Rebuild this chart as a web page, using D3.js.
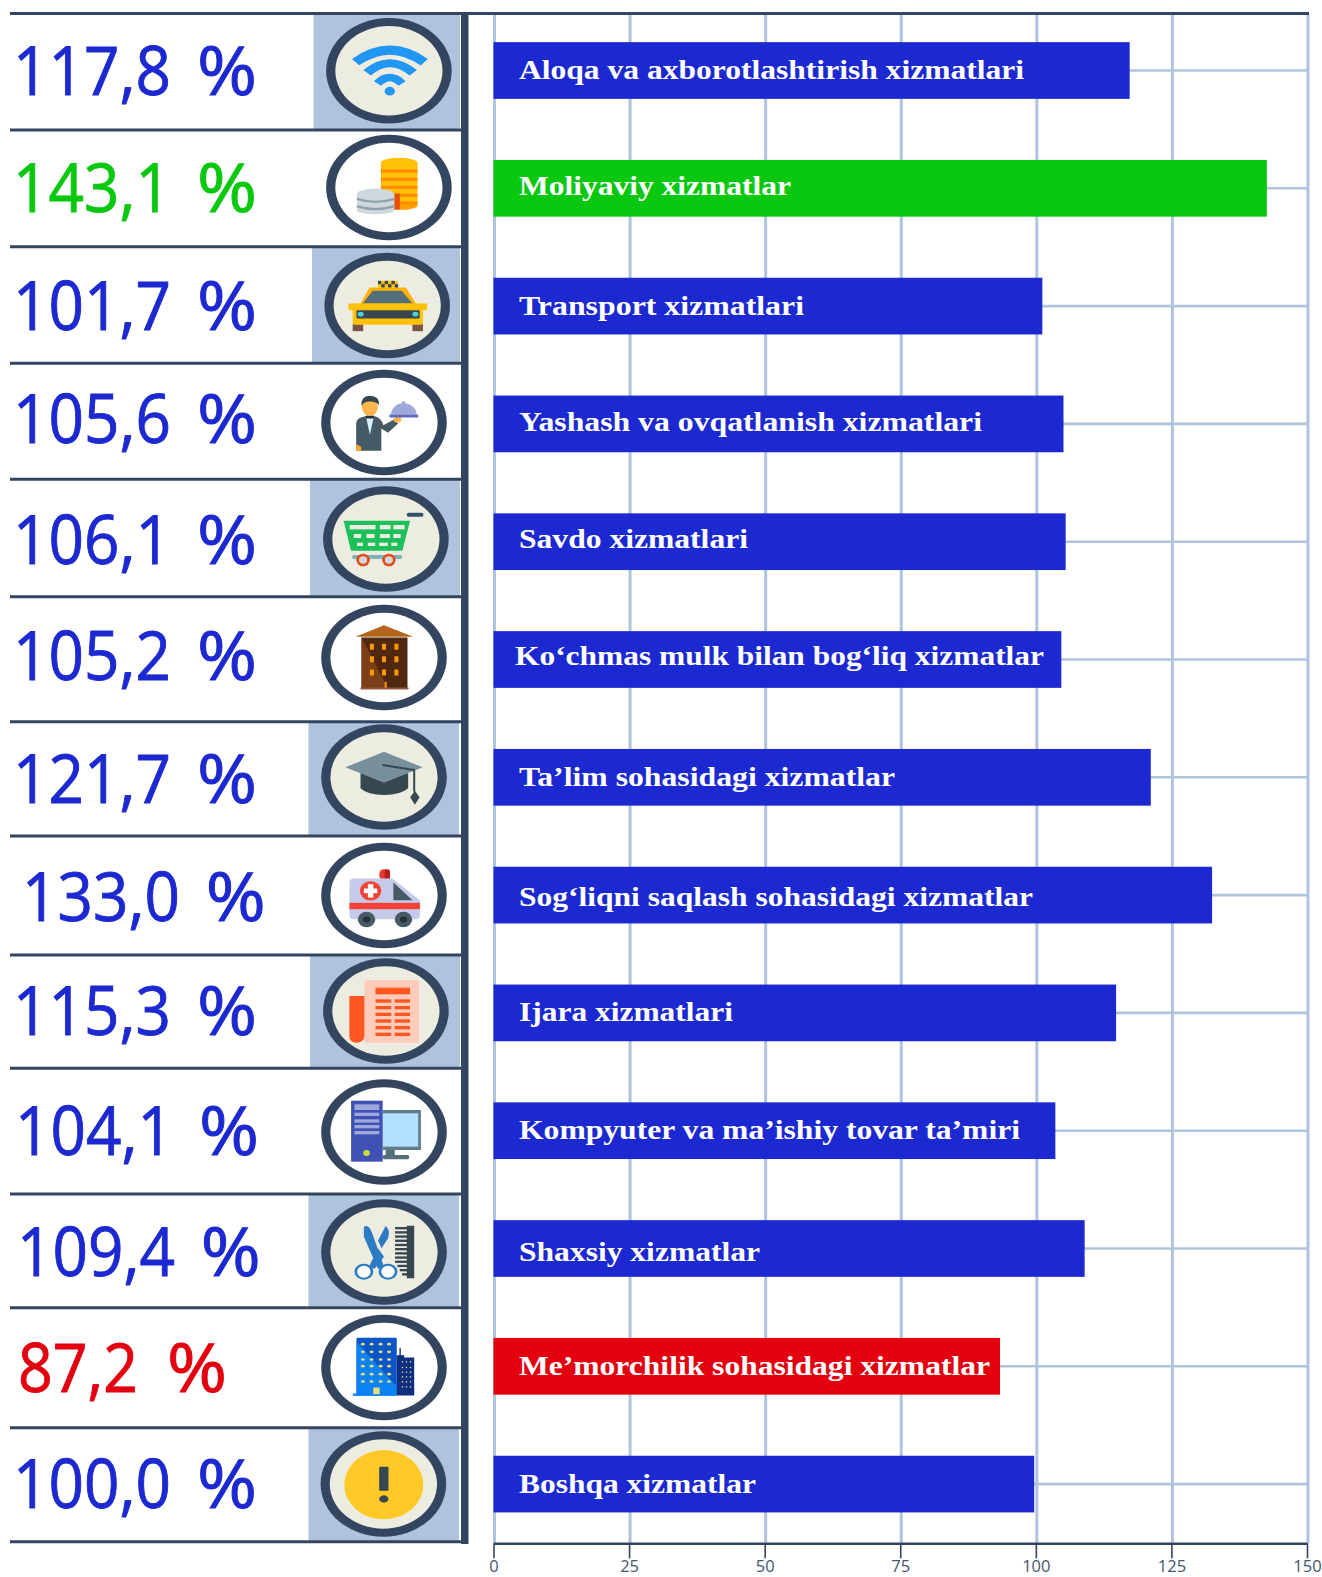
<!DOCTYPE html>
<html><head><meta charset="utf-8">
<script src="https://cdn.jsdelivr.net/npm/d3@7"></script>
<style>
html,body{margin:0;padding:0;background:#fff;overflow:hidden}
svg{display:block}
</style></head><body>
<svg id="c" width="1322" height="1577"></svg>
<script>
// ---- data ----
const categories = ["Aloqa va axborotlashtirish xizmatlari","Moliyaviy xizmatlar","Transport xizmatlari","Yashash va ovqatlanish xizmatlari","Savdo xizmatlari","Ko‘chmas mulk bilan bog‘liq xizmatlar","Ta’lim sohasidagi xizmatlar","Sog‘liqni saqlash sohasidagi xizmatlar","Ijara xizmatlari","Kompyuter va ma’ishiy tovar ta’miri","Shaxsiy xizmatlar","Me’morchilik sohasidagi xizmatlar","Boshqa xizmatlar"];
const percentValues = [117.8,143.1,101.7,105.6,106.1,105.2,121.7,133.0,115.3,104.1,109.4,87.2,100.0];
const barLengths = [117.3,142.6,101.2,105.1,105.5,104.7,121.2,132.5,114.8,103.6,109.0,93.4,99.7];
const axisTicks = [0,25,50,75,100,125,150];
const iconNames = ["wifi","coins","taxi","waiter","cart","house","cap","ambulance","news","computer","scissors","city","warning"];

// ---- layout of the hand-assembled left column ----
const rowEdges = [13.5,130,246.7,363.3,479.3,596.7,721.7,836,955,1068.3,1194,1307.7,1427.7,1541.7];
const panelLeft = [313.5,null,312,null,310,null,308.4,null,310,null,308.4,null,308.5];
const panelRight = [460,null,460,null,460,null,459,null,460,null,459,null,459];
const ringX = [388.9,388.9,387.2,384,385.9,384,384,384,385.9,384,384,384,383.4];
const ringY = [70.8,187.5,305.5,422.5,539,657.5,777,895.5,1011,1132,1252,1367.5,1484];
const percentBase = [95,212,330,443,563.8,680.3,803,921,1035,1154.6,1276,1392,1508];
const numberLeft = [13,13,13,13,13,13,13,22,13,15,17,18,13];
const numberWide = [158,158,158,158,158,158,158,158,158,158,158,120,158];
const signLeft = [197,197,197,197,197,197,197,205.7,197,199,200.7,167,197];
const labelLeft = [519,519,519,519,519,515,519,519,519,519,519,519,519];
const labelEnd = [1024,791,804,982,748,1044,895,1033,733,1020,760,990,756];
const labelNudge = [8.9,6.7,8.6,7.5,6.3,5.2,9.1,10.9,7.9,8.8,12.5,8.5,9.4];

const INK="#34465f", GRID="#b0c4de", BLUE="#1c29d0", GREEN="#0ac80f", RED="#e3000f", PANEL="#afc3dc", CREAM="#ecede0";
const maxV=d3.max(percentValues), minV=d3.min(percentValues);
const tone=v=>v===maxV?GREEN:v===minV?RED:BLUE;

const svg=d3.select("#c");
const x=d3.scaleLinear().domain([0,150]).range([493.5,1307]);
const y=d3.scaleBand().domain(categories).range([11.6,1543]).paddingInner(0.5187).paddingOuter(0.2594);

// grid
const grid=svg.append("g").attr("stroke",GRID).attr("stroke-width",3);
grid.selectAll(".h").data(categories).join("line").attr("class","h")
  .attr("x1",x(0)).attr("x2",x(150)+1)
  .attr("y1",d=>y(d)+y.bandwidth()/2).attr("y2",d=>y(d)+y.bandwidth()/2).attr("stroke-width",2.6);
grid.selectAll(".v").data(axisTicks).join("line").attr("class","v")
  .attr("x1",d=>x(d)+1).attr("x2",d=>x(d)+1).attr("y1",14).attr("y2",1543);

// bars
svg.append("g").selectAll("rect").data(categories).join("rect")
  .attr("x",x(0)).attr("y",d=>y(d)).attr("height",y.bandwidth())
  .attr("width",(d,i)=>x(barLengths[i])-x(0))
  .attr("fill",(d,i)=>tone(percentValues[i]));

// bar labels
svg.append("g").selectAll("text").data(categories).join("text")
  .text(d=>d)
  .attr("x",(d,i)=>labelLeft[i])
  .attr("y",(d,i)=>y(d)+y.bandwidth()/2+labelNudge[i])
  .attr("fill","#fff").attr("font-family","'Liberation Serif',serif").attr("font-weight",700).attr("font-size",28)
  .attr("textLength",(d,i)=>labelEnd[i]-labelLeft[i]).attr("lengthAdjust","spacingAndGlyphs");

// axis
const ax=svg.append("g").attr("transform","translate(0,1543.3)")
  .call(d3.axisBottom(x).tickValues(axisTicks).tickSize(15).tickSizeOuter(0).tickPadding(2));
ax.select(".domain").attr("stroke",INK).attr("stroke-width",2.6);
ax.selectAll(".tick line").attr("stroke",INK).attr("stroke-width",1.6);
ax.selectAll(".tick text").attr("fill","#45566e").attr("font-family","'Open Sans',sans-serif").attr("font-size",16.5);

// left column panels
svg.append("g").selectAll("rect").data(panelLeft.map((d,i)=>[d,i]).filter(d=>d[0]!==null)).join("rect")
  .attr("x",d=>d[0]).attr("width",d=>panelRight[d[1]]-d[0])
  .attr("y",d=>rowEdges[d[1]]).attr("height",d=>rowEdges[d[1]+1]-rowEdges[d[1]])
  .attr("fill",PANEL);

// rules
svg.append("g").attr("stroke",INK).attr("stroke-width",3).selectAll("line").data(rowEdges).join("line")
  .attr("x1",10).attr("x2",(d,i)=>i===0?1309:463).attr("y1",d=>d).attr("y2",d=>d);
svg.append("rect").attr("x",461).attr("y",13).attr("width",7.5).attr("height",1531).attr("fill",INK);

// percent readouts: the number and its sign sit apart in the reference
const readouts=svg.append("g").attr("font-family","'Open Sans',sans-serif").attr("font-size",67)
  .attr("stroke-width",0.9);
readouts.selectAll(".num").data(percentValues).join("text").attr("class","num")
  .text(d=>d.toFixed(1).replace(".",","))
  .attr("x",(d,i)=>numberLeft[i]).attr("y",(d,i)=>percentBase[i])
  .attr("fill",d=>tone(d)).attr("stroke",d=>tone(d))
  .attr("textLength",(d,i)=>numberWide[i]).attr("lengthAdjust","spacingAndGlyphs");
readouts.selectAll(".sign").data(percentValues).join("text").attr("class","sign")
  .text("%")
  .attr("x",(d,i)=>signLeft[i]).attr("y",(d,i)=>percentBase[i])
  .attr("fill",d=>tone(d)).attr("stroke",d=>tone(d))
  .attr("textLength",60).attr("lengthAdjust","spacingAndGlyphs");

// ---- icon drawing ----
function kit(g){return{
  r:(a,b,c,d,f,rx)=>g.append("rect").attr("x",a).attr("y",b).attr("width",c-a).attr("height",d-b).attr("fill",f).attr("rx",rx||0),
  e:(a,b,c,d,f)=>g.append("ellipse").attr("cx",a).attr("cy",b).attr("rx",c).attr("ry",d).attr("fill",f),
  p:(d,f)=>g.append("path").attr("d",d).attr("fill",f),
  s:(d,c,w,cap)=>g.append("path").attr("d",d).attr("fill","none").attr("stroke",c).attr("stroke-width",w).attr("stroke-linecap",cap||"butt").attr("stroke-linejoin","round")
};}
// each icon is traced in its own drawing units: origin, x units per px, y units per px
const icons={
 wifi:{o:[924,212],k:2.376,draw(t){
   t.s("M845 186Q926 114 1008 186","#2196f3",26);
   t.s("M872 218Q926 160 982 218","#2196f3",24);
   t.s("M897 250Q926 214 955 250","#2196f3",22);
   t.e(926,273,12,13,"#2196f3");}},
 coins:{o:[924,562],k:2.376,draw(t){
   t.r(905,487,992,617,"#ffc107"); t.e(948,617,44,12,"#ffa000"); t.e(948,487,43,14,"#ffc107");
   [508,533,557,581,604].forEach(v=>t.r(905,v,992,v+9,"#fb8c00"));
   t.r(936,580,950,628,"#e65100");
   t.r(848,582,937,630,"#cfd8dc"); t.e(892,630,44,12,"#cfd8dc"); t.e(892,582,44,17,"#cfd8dc");
   t.s("M848 596Q892 614 937 596","#90a4ae",7); t.s("M848 618Q892 636 937 618","#90a4ae",7);}},
 taxi:{o:[920,916],k:2.376,draw(t){
   t.r(838,972,863,993,"#795548"); t.r(980,972,1005,993,"#795548");
   t.p("M855 914L878 862H964L990 914Z","#ffb300");
   t.p("M860 912L886 872H954L982 912Z","#546e7a");
   t.r(828,910,1015,930,"#ffc107",4); t.r(838,910,1005,974,"#ffc107",6);
   t.r(847,930,997,955,"#37474f",3);
   t.e(857,942,7,7,"#4dd0e1"); t.e(987,942,7,7,"#4dd0e1");
   t.r(898,842,945,862,"#ffc107");
   [898,914,930].forEach(v=>{t.r(v,842,v+8,852,"#37474f"); t.r(v+8,852,v+16,862,"#37474f");});}},
 waiter:{o:[250,187],k:2.98,draw(t){
   t.p("M167 190Q167 172 195 168L222 168Q242 172 248 195L280 178L292 190L262 218L242 205V272H167Z","#455a64");
   t.p("M196 168H220L208 224Z","#d7eefc");
   t.r(196,166,220,175,"#263238",2);
   t.e(208,140,24,27,"#ffb74d");
   t.p("M183 138Q180 108 208 107Q238 108 235 135Q225 122 205 124Q190 124 183 138Z","#37474f");
   t.p("M167 252L182 260V272H167Z","#ffa726");
   t.e(290,178,12,9,"#ffb74d");
   t.p("M270 163Q275 130 308 129Q343 130 348 163Z","#9fa8da");
   t.e(308,128,6,5,"#9fa8da");
   t.r(266,163,352,172,"#5c6bc0",3);}},
 cart:{o:[256,537],k:2.98,draw(t){
   t.r(318,458,368,470,"#34526b",6);
   t.p("M130 482H328L305 572H152Z","#1dbf5a");
   [[148,194],[190,225],[238,270],[278,312]].forEach(c=>t.r(c[0],495,c[1],508,CREAM));
   [[160,182],[198,222],[238,268],[278,300]].forEach(c=>t.r(c[0],522,c[1],534,CREAM));
   [[170,188],[202,224],[236,262],[272,290]].forEach(c=>t.r(c[0],548,c[1],558,CREAM));
   t.r(155,585,305,597,"#80b4bd",6);
   [188,265].forEach(v=>{t.e(v,600,20,19,"#e64a19"); t.e(v,600,12,11,"#cfd8dc");});}},
 house:{o:[250,892],k:2.98,draw(t){
   t.r(183,832,320,985,"#50270f");
   t.p("M183 832L262 985H183Z","#7b3f18");
   t.p("M165 830L250 795L337 830Z","#b5641d");
   [214,250,287].forEach(a=>[860,897,937].forEach(b=>t.r(a-6,b-9,a+6,b+9,"#ff9800",1)));
   t.r(252,965,258,985,"#ff9800");
   t.r(180,982,323,988,"#8d5a3a");}},
 cap:{o:[250,171],k:2.98,draw(t){
   t.p("M180 160H322V205Q300 225 250 225Q200 225 180 205Z","#37474f");
   t.p("M135 142L250 95L365 142L250 188Z","#78909c");
   t.s("M245 135L340 150V215","#37474f",6);
   t.p("M342 212L356 232L342 254L328 232Z","#37474f");}},
 ambulance:{o:[250,526],k:2.98,draw(t){
   t.r(236,447,268,480,"#e53935",14); t.r(252,447,268,480,"#b71c1c",10);
   t.p("M160 475H275L357 540V585Q357 597 345 597H160Q147 597 147 585V488Q147 475 160 475Z","#c5cae9");
   t.p("M278 487L335 540H278Z","#455a64");
   t.r(147,548,357,567,"#f44336");
   t.e(210,512,32,29,"#f44336");
   t.r(202,492,218,532,"#fff"); t.r(190,505,230,519,"#fff");
   [198,308].forEach(v=>{t.e(v,598,26,23,"#455a64"); t.e(v,598,11,9,"#263238");});}},
 news:{o:[256,873],k:2.98,draw(t){
   t.r(192,780,355,968,"#ffccbc",8);
   t.p("M147 828H192V948Q190 968 169 968Q147 968 147 948Z","#ff5722");
   t.r(225,803,328,823,"#ff5722");
   [838,858,878,898,918,938].forEach(v=>{t.r(225,v,272,v+10,"#ff5722"); t.r(282,v,328,v+10,"#ff5722");});}},
 computer:{o:[250,186],k:2.98,draw(t){
   t.r(246,120,360,240,"#607d8b"); t.r(246,130,352,230,"#b3e0ff");
   t.r(255,240,282,256,"#546e7a"); t.r(246,255,325,268,"#546e7a",5);
   t.r(152,92,246,275,"#3f51b5");
   t.r(162,103,236,120,"#9fa8da");
   [128,148,165,183].forEach(v=>t.r(162,v,236,v+10,"#9fa8da"));
   t.e(198,249,10,9,"#cddc39");}},
 scissors:{o:[250,546],k:2.98,draw(t){
   t.p("M340 467H318V625H340Q340 545 340 467Z","#37474f");
   d3.range(0,12).forEach(i=>t.r(283+(i>8?(i-8)*7:0),471+i*12.6,320,478+i*12.6,"#37474f"));
   t.p("M190 470Q205 462 215 490L250 590L232 596L190 500Z","#2e7bc4");
   t.p("M255 468Q270 480 262 505L243 535L232 512Z","#2e7bc4");
   t.p("M232 535L205 590L222 596L250 560Z","#2e7bc4");
   [[190,605],[262,605]].forEach(c=>{t.e(c[0],c[1],28,24,"#2e7bc4"); t.e(c[0],c[1],20,18,"#fff");});}},
 city:{o:[250,892],k:2.98,draw(t){
   t.r(168,803,288,975,"#0a55c8",4);
   t.p("M168 815L288 950V975H168Z","#0d82f2");
   t.r(157,970,288,977,"#0d82f2");
   [187,213,240,265].forEach(a=>[822,845,868,888,912,934].forEach(b=>t.e(a,b,6,4,"#e6dc7a")));
   t.r(218,952,237,972,"#e6dc7a");
   t.r(296,833,300,858,"#0d2f7f"); t.r(288,855,310,866,"#0d2f7f");
   t.r(288,862,340,976,"#0d2f7f");
   [305,317,329].forEach(a=>[875,892,906,920,935,950].forEach(b=>t.r(a-2,b-2,a+2,b+2,"#e6dc7a")));}},
 warning:{o:[912,310],k:2.376,draw(t){
   t.e(913,312,94,104,"#ffca28");
   t.r(902,258,924,330,"#37474f",2);
   t.e(913,355,11,11,"#37474f");}}
};

const rings=svg.append("g");
iconNames.forEach((n,i)=>{
  const g=rings.append("g").attr("transform",`translate(${ringX[i]},${ringY[i]})`);
  g.append("ellipse").attr("rx",62.8).attr("ry",52.7).attr("fill",INK);
  g.append("ellipse").attr("rx",53.6).attr("ry",44.7).attr("fill",i%2===0?CREAM:"#fff");
  const ic=icons[n];
  const inner=g.append("g").attr("transform",`scale(${1/ic.k},${1/3}) translate(${-ic.o[0]},${-ic.o[1]})`);
  ic.draw(kit(inner));
});
</script>
</body></html>
